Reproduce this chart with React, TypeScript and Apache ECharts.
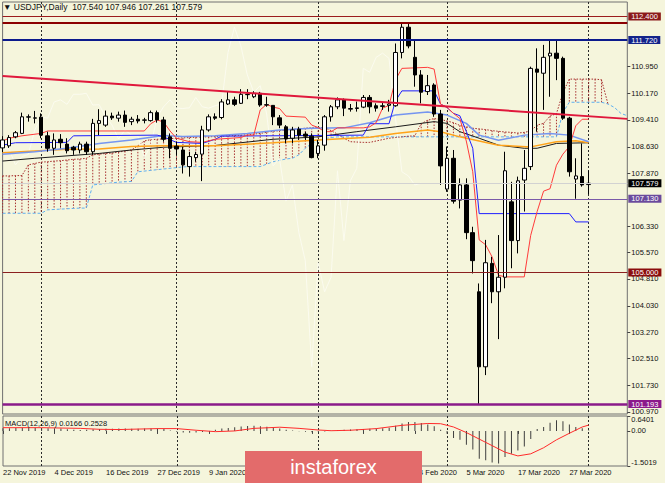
import React, { useEffect, useRef } from "react";
import * as echarts from "echarts";

const FONT = "'Liberation Sans', Arial, sans-serif";
const BG = "#f5f5dc";

// 92 daily bars (22 Nov 2019 .. 1 Apr 2020) plus 6 empty slots on the right
const SLOT_COUNT = 98;
const DATE_LABELS = [
  "22 Nov 2019", "4 Dec 2019", "16 Dec 2019", "27 Dec 2019", "9 Jan 2020", "21 Jan 2020",
  "31 Jan 2020", "12 Feb 2020", "24 Feb 2020", "5 Mar 2020", "17 Mar 2020", "27 Mar 2020",
];
// date labels that sit completely under the watermark in the reference
const HIDDEN_LABEL_SLOTS = [40, 48, 56];
const LABEL_STEP = 8;
const MONTH_START_BARS = [6, 27, 49, 69, 91];

// [open, high, low, close]
const OHLC = [
  [108.60, 108.94, 108.48, 108.83], [108.66, 108.97, 108.60, 108.90], [108.92, 109.09, 108.88, 109.04],
  [109.02, 109.62, 109.00, 109.50], [109.49, 109.57, 109.36, 109.50], [109.46, 109.67, 109.31, 109.47],
  [109.49, 109.60, 108.88, 108.97], [108.95, 109.07, 108.49, 108.59], [108.59, 109.02, 108.40, 108.83],
  [108.85, 109.00, 108.59, 108.75], [108.71, 108.88, 108.44, 108.52], [108.62, 108.66, 108.40, 108.54],
  [108.54, 108.78, 108.44, 108.71], [108.71, 108.78, 108.40, 108.49], [108.49, 109.44, 108.40, 109.31],
  [109.31, 109.72, 108.97, 109.39], [109.26, 109.68, 109.21, 109.52], [109.52, 109.62, 109.41, 109.47],
  [109.46, 109.65, 109.36, 109.55], [109.55, 109.68, 109.21, 109.34], [109.36, 109.50, 109.26, 109.43],
  [109.43, 109.55, 109.31, 109.38], [109.40, 109.47, 109.31, 109.41], [109.39, 109.68, 109.36, 109.62],
  [109.62, 109.68, 109.33, 109.41], [109.41, 109.50, 108.78, 108.85], [108.92, 109.02, 108.30, 108.59],
  [108.65, 108.78, 108.39, 108.57], [108.54, 108.63, 107.86, 108.11], [108.06, 108.49, 107.77, 108.35],
  [108.32, 108.49, 108.20, 108.41], [108.42, 109.24, 107.64, 109.12], [109.12, 109.57, 109.07, 109.50],
  [109.50, 109.60, 109.41, 109.46], [109.48, 110.01, 109.43, 109.93], [109.87, 110.24, 109.84, 109.99],
  [109.99, 110.08, 109.81, 109.86], [109.89, 110.30, 109.87, 110.15], [110.14, 110.30, 110.01, 110.15],
  [110.08, 110.24, 110.04, 110.18], [110.18, 110.22, 109.79, 109.84], [109.84, 110.08, 109.79, 109.85],
  [109.83, 109.84, 109.26, 109.50], [109.47, 109.55, 109.17, 109.26], [109.21, 109.26, 108.73, 108.86],
  [108.88, 109.21, 108.73, 109.12], [109.14, 109.21, 108.83, 108.97], [109.00, 109.07, 108.83, 108.94],
  [108.94, 109.02, 108.30, 108.32], [108.44, 108.83, 108.30, 108.66], [108.68, 109.55, 108.52, 109.50],
  [109.50, 109.84, 109.36, 109.79], [109.79, 110.06, 109.72, 109.99], [109.99, 110.03, 109.52, 109.75],
  [109.72, 109.87, 109.65, 109.74], [109.74, 109.94, 109.65, 109.76], [109.78, 110.13, 109.75, 110.06],
  [110.06, 110.13, 109.60, 109.79], [109.82, 109.89, 109.65, 109.75], [109.80, 109.91, 109.70, 109.82],
  [109.83, 109.99, 109.65, 109.87], [109.82, 111.62, 109.79, 111.36], [111.36, 112.20, 111.19, 112.09],
  [112.09, 112.20, 111.48, 111.55], [111.22, 111.70, 110.37, 110.71], [110.71, 110.85, 109.89, 110.21],
  [110.23, 110.71, 110.13, 110.40], [110.42, 110.47, 109.50, 109.58], [109.58, 109.70, 107.53, 108.08],
  [107.41, 108.64, 107.33, 108.30], [108.30, 108.54, 106.99, 107.06], [107.09, 107.72, 106.85, 107.53],
  [107.53, 107.72, 105.96, 106.15], [106.15, 106.32, 104.97, 105.34], [104.44, 104.68, 101.19, 102.27],
  [102.27, 105.94, 102.03, 105.28], [105.26, 105.45, 104.11, 104.44], [104.44, 106.08, 103.07, 104.86],
  [104.86, 108.49, 104.54, 107.94], [107.04, 107.62, 105.12, 105.92], [105.92, 107.77, 105.55, 107.65],
  [107.67, 108.54, 106.76, 108.01], [108.06, 110.95, 107.96, 110.90], [110.88, 111.48, 109.07, 110.79],
  [110.76, 111.58, 109.70, 111.22], [111.26, 111.72, 110.08, 111.34], [111.34, 111.72, 110.56, 111.19],
  [111.19, 111.24, 109.41, 109.46], [109.46, 109.50, 107.77, 107.91], [107.70, 108.30, 107.13, 107.79],
  [107.77, 108.73, 107.48, 107.53], [107.54, 107.946, 107.261, 107.579],
];

// Ichimoku lines [bar index, price]
const TENKAN = [
  [0, 108.80], [1, 108.88], [3, 108.95], [6, 109.02], [7, 109.09], [22, 109.09], [23, 109.30], [24, 109.41],
  [25, 109.35], [26, 109.09], [27, 108.88], [29, 108.78], [31, 108.76], [33, 108.85], [37, 108.90], [38, 108.97],
  [39, 108.97], [40, 109.70], [41, 109.86], [42, 109.78], [43, 109.74], [44, 109.52], [47, 109.49], [48, 109.26],
  [49, 109.19], [50, 109.07], [51, 109.07], [52, 109.18], [56, 109.18], [57, 109.21], [58, 109.33], [59, 109.75],
  [60, 109.83], [61, 110.57], [62, 110.90], [66, 110.93], [67, 110.88], [68, 109.87], [69, 109.77], [70, 109.60],
  [71, 109.45], [72, 108.80], [73, 107.91], [74, 105.94], [75, 105.80], [76, 105.45], [77, 104.92], [78, 104.87],
  [81, 104.87], [82, 106.07], [83, 106.76], [84, 107.35], [85, 107.42], [86, 108.10], [87, 108.42], [88, 108.64],
  [89, 109.24], [90, 109.43], [91, 109.43],
];
const KIJUN = [
  [0, 108.68], [2, 108.75], [10, 108.76], [11, 108.95], [24, 108.97], [25, 108.92], [27, 108.76], [31, 108.73],
  [33, 108.85], [34, 108.94], [56, 108.97], [57, 109.30], [60, 109.30], [61, 109.96], [62, 110.25], [67, 110.25],
  [68, 109.87], [69, 109.77], [70, 109.60], [71, 109.53], [72, 109.08], [73, 108.59], [74, 106.70], [88, 106.70],
  [89, 106.46], [91, 106.46],
];
// Senkou span A (bars 0..94) and span B (bars 0..97), shifted forward
const SPAN_A = [
  107.79, 107.79, 107.80, 107.80, 108.11, 108.15, 108.19, 108.20, 108.22, 108.23,
  108.25, 108.27, 108.28, 108.30, 108.40, 108.42, 108.44, 108.45, 108.48, 108.51,
  108.54, 108.66, 108.80, 108.84, 108.85, 108.86, 108.87, 108.88, 108.89, 108.90,
  108.91, 108.92, 108.92, 108.93, 108.94, 108.95, 108.96, 108.97, 108.98, 109.00,
  109.02, 109.05, 109.08, 109.10, 109.12, 109.14, 109.15, 109.17, 109.18, 109.19,
  109.19, 109.10, 109.00, 108.88, 108.78, 108.77, 108.76, 108.76, 108.80, 108.84,
  108.88, 108.90, 108.92, 108.94, 108.95, 109.30, 109.40, 109.45, 109.42, 109.38,
  109.33, 109.25, 109.21, 109.17, 109.15, 109.13, 109.10, 109.08, 109.06, 109.05,
  109.03, 109.05, 109.09, 109.26, 109.31, 109.52, 109.59, 110.20, 110.59, 110.59,
  110.59, 110.59, 110.59, 110.57, 109.87,
];
const SPAN_B = [
  106.71, 106.71, 106.71, 106.71, 106.71, 106.71, 106.71, 106.81, 106.82, 106.83,
  106.84, 106.85, 106.86, 106.86, 107.53, 107.55, 107.57, 107.59, 107.61, 107.62,
  107.63, 107.91, 107.93, 107.95, 107.97, 107.99, 108.01, 108.03, 108.05, 108.06,
  108.06, 108.06, 108.06, 108.06, 108.06, 108.06, 108.06, 108.06, 108.06, 108.06,
  108.06, 108.13, 108.20, 108.24, 108.28, 108.30, 108.40, 108.59, 108.73, 108.82,
  108.87, 108.90, 108.92, 108.92, 108.92, 108.92, 108.92, 108.92, 108.92, 108.92,
  108.92, 108.92, 108.92, 108.92, 108.92, 108.92, 108.92, 108.92, 108.92, 108.92,
  108.92, 108.92, 108.92, 108.92, 108.92, 108.92, 108.92, 108.92, 108.92, 108.92,
  108.92, 108.92, 108.92, 108.92, 108.92, 108.92, 108.92, 109.63, 109.92, 109.92,
  109.92, 109.92, 109.92, 109.92, 109.87, 109.77, 109.60, 109.53,
];

// Moving averages [bar index, price]
const MA_CORNFLOWER = [
  [0, 108.42], [5, 108.49], [10, 108.59], [15, 108.73], [20, 108.83], [25, 108.96], [28, 108.93], [33, 108.95],
  [38, 109.02], [43, 109.12], [48, 109.17], [53, 109.18], [57, 109.33], [61, 109.55], [66, 109.64], [69, 109.55],
  [72, 109.31], [74, 108.97], [77, 108.82], [81, 108.97], [85, 109.02], [88, 108.97], [91, 108.78],
];
const MA_ORANGE = [
  [0, 108.46], [5, 108.51], [10, 108.56], [15, 108.57], [20, 108.64], [25, 108.66], [33, 108.66], [42, 108.75],
  [49, 108.83], [57, 108.91], [61, 109.02], [66, 109.12], [68, 109.07], [71, 108.92], [77, 108.68], [82, 108.63],
  [86, 108.78], [89, 108.81], [91, 108.75],
];
const MA_BLACK = [
  [0, 108.22], [5, 108.30], [10, 108.37], [15, 108.44], [20, 108.54], [25, 108.62], [33, 108.67], [42, 108.85],
  [49, 108.92], [55, 109.07], [61, 109.21], [65, 109.31], [67, 109.36], [69, 109.31], [71, 109.07], [74, 108.88],
  [77, 108.68], [81, 108.59], [83, 108.59], [86, 108.73], [91, 108.75],
];

// Falling trend line [bar index, price]
const TREND_LINE = [[0, 110.68], [97, 109.44]];

// Horizontal levels and their right-hand labels
const LEVEL_PRICES = [112.23, 112.4, 111.72, 107.579, 107.13, 105.0, 101.193];
const LEVEL_STYLES = [
  { line: "#8b0000", width: 2, box: "#8b0000" },
  { line: "#9b1c1c", width: 1, box: "#8b1a1a" },
  { line: "#0b1a8c", width: 2, box: "#13238a" },
  { line: "#d2d2d2", width: 1, box: "#000000" },
  { line: "#7a5aa8", width: 1, box: "#6a4a9c" },
  { line: "#8b2020", width: 1, box: "#8b0d0d" },
  { line: "#8a1a8a", width: 2.5, box: "#8b1a8b" },
];

const PRICE_TICKS = [110.95, 110.17, 109.41, 108.63, 107.87, 106.33, 105.57, 104.81, 104.03, 103.27, 102.51, 101.73, 100.97];
const PRICE_MIN = 100.905;
const PRICE_MAX = 112.82;

// MACD(12,26,9)
const MACD_HIST = [
  0.12, 0.12, 0.13, 0.14, 0.14, 0.14, 0.13, 0.12, 0.11, 0.10,
  0.07, 0.05, 0.04, 0.05, 0.07, 0.08, 0.09, 0.09, 0.10, 0.10,
  0.09, 0.09, 0.10, 0.10, 0.10, 0.08, 0.02, -0.03, -0.07, -0.08,
  -0.07, -0.04, 0.00, 0.05, 0.10, 0.13, 0.16, 0.19, 0.21, 0.22,
  0.20, 0.18, 0.14, 0.10, 0.05, 0.02, -0.01, -0.03, -0.06, -0.05,
  -0.02, 0.01, 0.04, 0.05, 0.06, 0.07, 0.08, 0.09, 0.10, 0.12,
  0.14, 0.22, 0.32, 0.38, 0.38, 0.34, 0.28, 0.20, 0.05, -0.12,
  -0.30, -0.38, -0.59, -0.80, -1.19, -1.26, -1.35, -1.40, -1.12, -0.98,
  -0.84, -0.67, -0.35, 0.08, 0.17, 0.35, 0.46, 0.42, 0.28, 0.17,
  0.11, 0.0166,
];
const MACD_SIGNAL = [
  [0, 0.14], [6, 0.14], [12, 0.11], [15, 0.07], [18, 0.06], [24, 0.10], [27, 0.10], [30, 0.03], [33, -0.03],
  [36, 0.0], [39, 0.11], [43, 0.16], [46, 0.11], [49, 0.04], [51, 0.01], [54, 0.03], [58, 0.10], [62, 0.24],
  [66, 0.32], [68, 0.31], [70, 0.17], [72, -0.07], [74, -0.35], [76, -0.63], [78, -0.91], [80, -1.07],
  [82, -0.98], [84, -0.72], [86, -0.38], [88, -0.10], [90, 0.17], [91, 0.25],
];
const MACD_TOP = 0.6401;
const MACD_BOTTOM = -1.5019;

function buildOption() {
  const categories = Array.from({ length: SLOT_COUNT }, (_, i) => String(i));
  const isLabelSlot = (i: number) => i % LABEL_STEP === 0 && i / LABEL_STEP < DATE_LABELS.length;
  const isShownLabel = (i: number) => isLabelSlot(i) && !HIDDEN_LABEL_SLOTS.includes(i);
  const isMonthStart = (i: number) => MONTH_START_BARS.includes(i);
  const candleData = OHLC.map(([o, h, l, c]) => [o, c, l, h]);
  const chikou = OHLC.slice(26).map((r, i) => [i, r[3]]);
  const cloud = SPAN_A.map((a, i) => [i, a, SPAN_B[i]]);
  const levelRich: Record<string, any> = {};
  LEVEL_STYLES.forEach((s, k) => {
    levelRich["l" + k] = {
      backgroundColor: s.box, color: "#ffffff", fontSize: 7.5, fontFamily: FONT,
      padding: [0, 3, 0, 3], lineHeight: 7,
    };
  });
  const axisText = { fontSize: 7.5, lineHeight: 7, color: "#111111", fontFamily: FONT };
  const sepLine = { show: true, interval: (i: number) => isMonthStart(i), lineStyle: { color: "#2a2a2a", type: [2, 2], width: 1 } };
  const macdAxis = (vals: number[], va: string, ticks: boolean) => ({
    type: "value", gridIndex: 1, position: "right", min: MACD_BOTTOM, max: MACD_TOP,
    axisLine: { show: false }, splitLine: { show: false },
    axisTick: { show: ticks, customValues: [MACD_TOP, 0, MACD_BOTTOM], length: 3, lineStyle: { color: "#444" } },
    axisLabel: { ...axisText, customValues: vals, margin: 4, verticalAlign: va, formatter: (v: number) => (v === 0 ? "0.00" : v.toFixed(4)) },
  });
  const line = (data: number[][], color: string, width: number, type: any = "solid", z = 2) => ({
    type: "line", xAxisIndex: 0, yAxisIndex: 0, data, symbol: "none", silent: true, z,
    lineStyle: { color, width, type },
  });

  return {
    animation: false,
    backgroundColor: BG,
    title: [
      { text: "▼ USDJPY,Daily  107.540 107.946 107.261 107.579", left: 3, top: 2, padding: 0,
        textStyle: { fontSize: 8.5, fontWeight: "normal", color: "#111", fontFamily: FONT } },
      { text: "MACD(12,26,9) 0.0166 0.2528", left: 5, top: 419, padding: 0,
        textStyle: { fontSize: 7.5, fontWeight: "normal", color: "#111", fontFamily: FONT } },
    ],
    grid: [
      { left: 2.6, top: 2, width: 624.7, height: 412, show: true, borderColor: "#707070", borderWidth: 1 },
      { left: 2.6, top: 416, width: 624.7, height: 50, show: true, borderColor: "#707070", borderWidth: 1 },
    ],
    xAxis: [
      { type: "category", gridIndex: 0, data: categories, boundaryGap: false,
        axisLine: { show: false }, axisTick: { show: false }, axisLabel: { show: false }, splitLine: sepLine },
      { type: "category", gridIndex: 1, data: categories, boundaryGap: false,
        axisLine: { show: false },
        axisTick: { show: true, interval: (i: number) => isLabelSlot(i), length: 3, lineStyle: { color: "#444" } },
        axisLabel: { ...axisText, show: true, interval: (i: number) => isShownLabel(i), align: "left", margin: 3,
          formatter: (_v: string, i: number) => (isShownLabel(i) ? DATE_LABELS[i / LABEL_STEP] : "") },
        splitLine: sepLine },
    ],
    yAxis: [
      { type: "value", gridIndex: 0, position: "right", min: PRICE_MIN, max: PRICE_MAX,
        axisLine: { show: false }, splitLine: { show: false },
        axisTick: { show: true, customValues: PRICE_TICKS, length: 3, lineStyle: { color: "#444" } },
        axisLabel: { ...axisText, customValues: PRICE_TICKS, margin: 4, formatter: (v: number) => v.toFixed(3) } },
      { type: "value", gridIndex: 0, position: "right", min: PRICE_MIN, max: PRICE_MAX,
        axisLine: { show: false }, splitLine: { show: false }, axisTick: { show: false },
        axisLabel: { customValues: LEVEL_PRICES, margin: 1, rich: levelRich,
          formatter: (v: number) => {
            const k = LEVEL_PRICES.findIndex((p) => Math.abs(p - v) < 1e-6);
            return "{l" + k + "|" + v.toFixed(3) + "}";
          } } },
      macdAxis([MACD_TOP], "top", true),
      macdAxis([0], "middle", false),
      macdAxis([MACD_BOTTOM], "bottom", false),
    ],
    series: [
      {
        type: "custom", xAxisIndex: 0, yAxisIndex: 0, data: cloud, silent: true, z: 1, clip: true,
        encode: { x: 0, y: [1, 2] },
        renderItem: (_p: any, api: any) => {
          const i = api.value(0), a = api.value(1), b = api.value(2);
          if (!(a > b)) return null;
          const p1 = api.coord([i, a]);
          const p2 = api.coord([i, b]);
          return { type: "line", shape: { x1: p1[0], y1: p1[1], x2: p2[0], y2: p2[1] },
            style: { stroke: "#a83232", lineWidth: 1, lineDash: [1.5, 1.5] } };
        },
      },
      line(SPAN_B.map((v, i) => [i, v]), "#5fb0f0", 1, [3, 2]),
      line(SPAN_A.map((v, i) => [i, v]), "#a52a2a", 1, [1.5, 1.5]),
      line(chikou, "#fbfbef", 1),
      line(MA_BLACK, "#1a1a1a", 1),
      line(MA_ORANGE, "#ffa31a", 1.5),
      line(MA_CORNFLOWER, "#7595f0", 1.5),
      line(KIJUN, "#1f1fff", 1),
      line(TENKAN, "#ff3b3b", 1),
      {
        type: "candlestick", xAxisIndex: 0, yAxisIndex: 0, data: candleData, barWidth: 4, z: 3, silent: true,
        itemStyle: { color: "#ffffff", color0: "#000000", borderColor: "#000000", borderColor0: "#000000", borderWidth: 1 },
      },
      {
        ...line(TREND_LINE, "#e0183c", 2, "solid", 4),
        markLine: {
          symbol: ["none", "none"], silent: true, label: { show: false },
          data: LEVEL_PRICES.map((p, k) => ({ yAxis: p, lineStyle: { color: LEVEL_STYLES[k].line, width: LEVEL_STYLES[k].width, type: "solid" } })),
        },
      },
      {
        type: "bar", xAxisIndex: 1, yAxisIndex: 2, data: MACD_HIST, barWidth: 1, silent: true,
        itemStyle: { color: "#3f3f3f" },
      },
      {
        type: "line", xAxisIndex: 1, yAxisIndex: 2, data: MACD_SIGNAL, symbol: "none", silent: true,
        lineStyle: { color: "#ff2a2a", width: 1 },
      },
    ],
    graphic: [
      { type: "rect", z: 100, shape: { x: 245, y: 451, width: 177, height: 32 }, style: { fill: "#e36b6b" } },
      { type: "text", z: 101, x: 333.5, y: 467, style: { text: "instaforex", fill: "#ffffff", font: "20px " + FONT, align: "center", verticalAlign: "middle" } },
    ],
  };
}

export default function App() {
  const ref = useRef<HTMLDivElement>(null);
  useEffect(() => {
    document.body.style.margin = "0";
    const chart = echarts.init(ref.current as HTMLDivElement, null, { renderer: "svg" });
    chart.setOption(buildOption() as any);
    return () => chart.dispose();
  }, []);
  return <div ref={ref} style={{ width: 665, height: 483 }} />;
}
